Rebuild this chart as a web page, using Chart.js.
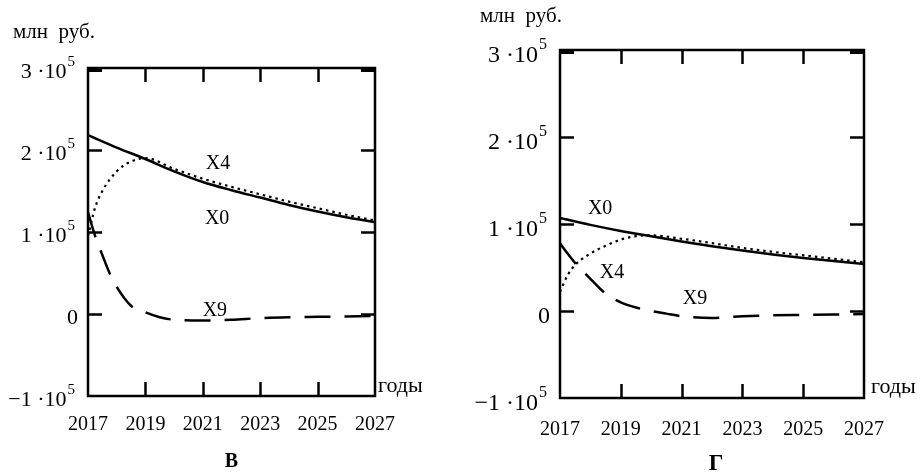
<!DOCTYPE html>
<html>
<head>
<meta charset="utf-8">
<script src="https://cdn.jsdelivr.net/npm/chart.js@4/dist/chart.umd.min.js"></script>
<style>
  html, body { margin: 0; padding: 0; background: #fff; }
  #wrap { position: relative; width: 920px; height: 474px; background: #fff; }
  #wrap canvas { position: absolute; top: 0; }
</style>
</head>
<body>
<div id="wrap">
  <canvas id="panelV" width="460" height="474" style="left:0"></canvas>
  <canvas id="panelG" width="460" height="474" style="left:460px"></canvas>
</div>
<script>
// Axis ticks shared by both panels
const yearTicks = [2017, 2019, 2021, 2023, 2025, 2027];
const valueTicks = [300000, 200000, 100000, 0, -100000];
const valueTickLabels = ['3 ·10', '2 ·10', '1 ·10', '0', '\u22121 ·10'];
const valueTickExponents = ['5', '5', '5', '', '5'];

// Panel "В" — million roubles by year
const yearsV = [2017, 2018, 2019, 2020, 2021, 2022, 2023, 2024, 2025, 2026, 2027];
const x0V = [218000, 203000, 189000, 174000, 161000, 151000, 142000, 133000, 125000, 118000, 112000];
const x4YearsV = [2017, 2017.25, 2017.5, 2018, 2018.5, 2019, 2020, 2021, 2022, 2023, 2024, 2025, 2026, 2027];
const x4V = [95000, 130000, 150000, 174000, 186000, 190000, 177000, 165000, 155000, 146000, 137000, 129000, 121000, 114000];
const x9YearsV = [2017, 2017.25, 2017.5, 2017.75, 2018, 2018.5, 2019, 2019.5, 2020, 2021, 2022, 2023, 2024, 2025, 2026, 2027];
const x9V = [124000, 95000, 72000, 50000, 33000, 10000, 2000, -4000, -7000, -8000, -7000, -5000, -4000, -3500, -3000, -2500];

// Panel "Г" — million roubles by year
const yearsG = [2017, 2018, 2019, 2020, 2021, 2022, 2023, 2024, 2025, 2026, 2027];
const x0G = [107000, 99000, 92000, 86000, 80000, 74500, 69500, 65000, 61000, 57500, 54000];
const x4YearsG = [2017, 2017.25, 2017.5, 2018, 2018.5, 2019, 2019.5, 2020, 2021, 2022, 2023, 2024, 2025, 2026, 2027];
const x4G = [22000, 41000, 53000, 66000, 75000, 82000, 86000, 87000, 83000, 78000, 72500, 68000, 64000, 60000, 56000];
const x9YearsG = [2017, 2017.25, 2017.5, 2018, 2018.5, 2019, 2019.5, 2020, 2020.5, 2021, 2022, 2023, 2024, 2025, 2026, 2027];
const x9G = [78000, 66000, 55000, 37000, 20000, 10000, 4000, 0, -3000, -6000, -8000, -6000, -5000, -4500, -4000, -3500];

const unitText = 'млн  руб.';
const axisText = 'годы';

function points(xs, ys) {
  return xs.map((x, i) => ({ x: x, y: ys[i] }));
}

const SERIF = '"Liberation Serif", "Times New Roman", serif';

// Frame, inward ticks, tick labels and annotations
function panelDecor(cfg) {
  return {
    id: 'panelDecor',
    afterDraw(chart) {
      const ctx = chart.ctx;
      const a = chart.chartArea;
      const xs = chart.scales.x, ys = chart.scales.y;
      const seg = (x1, y1, x2, y2, w) => {
        ctx.lineWidth = w;
        ctx.beginPath(); ctx.moveTo(x1, y1); ctx.lineTo(x2, y2); ctx.stroke();
      };
      ctx.save();
      ctx.strokeStyle = '#000';
      ctx.fillStyle = '#000';
      ctx.lineCap = 'butt';

      // plot frame
      ctx.lineWidth = 2.5;
      ctx.strokeRect(a.left, a.top, a.right - a.left, a.bottom - a.top);

      const t = 14;
      yearTicks.forEach(v => {
        if (v === xs.min || v === xs.max) return;
        const px = Math.round(xs.getPixelForValue(v)) + 0.5;
        seg(px, a.top, px, a.top + t, 2.5);
        seg(px, a.bottom, px, a.bottom - t, 2.5);
      });
      valueTicks.forEach(v => {
        if (v === ys.min) return;
        const py = Math.round(ys.getPixelForValue(v)) + 0.5;
        const w = v === ys.max ? 5 : 2.5;
        const off = v === ys.max ? 1 : 0;
        seg(a.left, py + off, a.left + t, py + off, w);
        seg(a.right, py + off, a.right - t, py + off, w);
      });

      // year labels
      ctx.font = cfg.xFont + 'px ' + SERIF;
      ctx.textAlign = 'center';
      ctx.textBaseline = 'alphabetic';
      yearTicks.forEach(v => {
        ctx.fillText(String(v), xs.getPixelForValue(v), cfg.xBaseline);
      });

      // value labels with superscript exponent
      valueTicks.forEach((v, i) => {
        const py = ys.getPixelForValue(v);
        const main = valueTickLabels[i];
        const sup = valueTickExponents[i];
        if (!sup) {
          ctx.font = cfg.yFont + 'px ' + SERIF;
          ctx.textAlign = 'right';
          ctx.fillText(main, a.left - cfg.zeroGap, py + cfg.yDy);
          return;
        }
        ctx.font = cfg.supFont + 'px ' + SERIF;
        ctx.textAlign = 'right';
        const supRight = a.left - cfg.supGap;
        ctx.fillText(sup, supRight, py + cfg.supDy);
        const sw = ctx.measureText(sup).width;
        ctx.font = cfg.yFont + 'px ' + SERIF;
        ctx.fillText(main, supRight - sw - 1, py + cfg.yDy);
      });

      // unit and axis captions
      ctx.font = cfg.unitFont + 'px ' + SERIF;
      ctx.textAlign = 'left';
      ctx.fillText(unitText, cfg.unitX, cfg.unitY);
      ctx.font = cfg.axisFont + 'px ' + SERIF;
      ctx.fillText(axisText, a.right + cfg.axisTextGap, a.bottom + cfg.axisTextDy);

      // series names next to the curves
      ctx.font = cfg.seriesFont + 'px ' + SERIF;
      ctx.textAlign = 'center';
      ctx.textBaseline = 'middle';
      cfg.seriesTags.forEach(s => {
        ctx.fillText(s.text, xs.getPixelForValue(s.year), ys.getPixelForValue(s.value));
      });

      // panel letter
      ctx.font = 'bold ' + cfg.letterFont + 'px ' + SERIF;
      ctx.textBaseline = 'middle';
      ctx.fillText(cfg.letter, (a.left + a.right) / 2 + cfg.letterDx, cfg.letterY);
      ctx.restore();
    }
  };
}

function makePanel(id, d, cfg) {
  const base = { borderColor: '#000', pointRadius: 0, fill: false, cubicInterpolationMode: 'monotone' };
  return new Chart(document.getElementById(id), {
    type: 'line',
    data: {
      datasets: [
        Object.assign({ label: 'X0', data: points(d.x0Years, d.x0), borderWidth: 2.5 }, base),
        Object.assign({ label: 'X4', data: points(d.x4Years, d.x4), borderWidth: 2.2, borderDash: [2.5, 4] }, base),
        Object.assign({ label: 'X9', data: points(d.x9Years, d.x9), borderWidth: 2.5, borderDash: [26, 14] }, base)
      ]
    },
    options: {
      responsive: false,
      animation: false,
      events: [],
      layout: { padding: cfg.pad },
      plugins: { legend: { display: false }, tooltip: { enabled: false } },
      scales: {
        x: { type: 'linear', display: false, min: 2017, max: 2027 },
        y: { type: 'linear', display: false, min: -100000, max: 300000 }
      }
    },
    plugins: [panelDecor(cfg)]
  });
}

makePanel('panelV',
  { x0Years: yearsV, x0: x0V, x4Years: x4YearsV, x4: x4V, x9Years: x9YearsV, x9: x9V },
  {
    pad: { left: 88, right: 85, top: 68, bottom: 78 },
    xFont: 20, xBaseline: 430,
    yFont: 22, yDy: 10, supFont: 15, supDy: -2, supGap: 13, zeroGap: 10,
    unitFont: 21, unitX: 13, unitY: 38,
    axisFont: 22, axisTextGap: 3, axisTextDy: -4,
    seriesFont: 20,
    seriesTags: [
      { text: 'X4', year: 2021.53, value: 183500 },
      { text: 'X0', year: 2021.5, value: 116000 },
      { text: 'X9', year: 2021.42, value: 3700 }
    ],
    letter: 'В', letterFont: 20, letterDx: 0, letterY: 462
  });

makePanel('panelG',
  { x0Years: yearsG, x0: x0G, x4Years: x4YearsG, x4: x4G, x9Years: x9YearsG, x9: x9G },
  {
    pad: { left: 100, right: 56, top: 50, bottom: 76 },
    xFont: 20, xBaseline: 435,
    yFont: 24, yDy: 12, supFont: 16, supDy: -1, supGap: 13, zeroGap: 10,
    unitFont: 21, unitX: 20, unitY: 22,
    axisFont: 22, axisTextGap: 7, axisTextDy: -5,
    seriesFont: 20,
    seriesTags: [
      { text: 'X0', year: 2018.32, value: 118000 },
      { text: 'X4', year: 2018.71, value: 43700 },
      { text: 'X9', year: 2021.44, value: 13800 }
    ],
    letter: 'Г', letterFont: 23, letterDx: 4, letterY: 464
  });
</script>
</body>
</html>
